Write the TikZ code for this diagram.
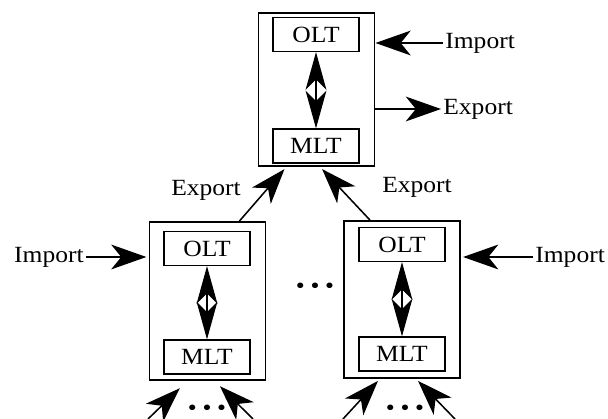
\documentclass[tikz,border=0pt]{standalone}
\usepackage{fontspec}
\setmainfont{Liberation Serif}[FakeStretch=1.1]
\usetikzlibrary{arrows.meta}
\begin{document}
\begin{tikzpicture}[x=0.025cm, y=-0.025cm,
	%Option for big arrows
	>={Stealth[length=0.88cm, width=0.62cm, inset=0.25cm]},
	font=\fontsize{16.5}{19}\selectfont,
	system/.style={draw, line width=1.4pt, minimum width=2.9cm, minimum height=3.9cm},
	layer/.style={draw, line width=0.9pt, minimum width=2.15cm, minimum height=0.85cm, inner sep=0pt},
	flow/.style={line width=1.1pt, ->},
	link/.style={line width=0.8pt,
		{Stealth[length=0.94cm, width=0.52cm, inset=0.26cm]}-{Stealth[length=0.94cm, width=0.52cm, inset=0.26cm]}},
	label/.style={inner sep=1.5pt},
	]
	% Frame
	\useasboundingbox (0,0) rectangle (608,419);
	
	% Upper system
	\node[system, minimum height=3.83cm] (topsys) at (316.5,89.5) {};
	\node[layer] (topolt) at (316,34.5) {OLT};
	\node[layer] (topmlt) at (316,146) {MLT};
	\draw[link] (topolt) -- (topmlt);
	
	\node[label, anchor=west] (topimport) at (443,43) {Import};
	\draw[flow] (topimport.west) -- (topimport -| topsys.east);
	\node[label, anchor=west] (topexport) at (441,109) {Export};
	\draw[flow] (topexport -| topsys.east) -- (topexport.west);
	
	% Lower left system
	\node[system, minimum height=3.95cm] (leftsys) at (207.5,301) {};
	\node[layer] (leftolt) at (207,248.5) {OLT};
	\node[layer] (leftmlt) at (207,357) {MLT};
	\draw[link] (leftolt) -- (leftmlt);
	
	\node[label, anchor=east] (leftimport) at (86,257) {Import};
	\draw[flow] (leftimport.east) -- ([xshift=-1.5pt]leftimport -| leftsys.west);
	
	% Lower right system
	\node[system, minimum height=3.92cm] (rightsys) at (402,299.5) {};
	\node[layer] (rightolt) at (402,244.5) {OLT};
	\node[layer] (rightmlt) at (402,354) {MLT};
	\draw[link] (rightolt) -- (rightmlt);
	
	\node[label, anchor=west] (rightimport) at (533,257) {Import};
	\draw[flow] (rightimport.west) -- ([xshift=1.5pt]rightimport -| rightsys.east);
	
	% Exports up to the upper system
	\draw[flow] ([xshift=0.8cm]leftsys.north) -- ([xshift=-0.8cm, yshift=-0.05cm]topsys.south);
	\draw[flow] ([xshift=-0.8cm]rightsys.north) -- ([xshift=0.14cm, yshift=-0.05cm]topsys.south);
	\node (leftexport) at (206,190) {Export};
	\node (rightexport) at (417,187) {Export};
	
	\node (middots) at (315,288) {\textbullet\hspace{4pt}\textbullet\hspace{4pt}\textbullet};
	
	% Inputs from below
	\coordinate (leftin1) at (148,419);
	\coordinate (leftin2) at (253,419);
	\coordinate (rightin1) at (343,419);
	\coordinate (rightin2) at (455,419);
	\draw[flow] (leftin1) -- ([xshift=-0.69cm, yshift=-0.18cm]leftsys.south);
	\draw[flow] (leftin2) -- ([xshift=0.31cm, yshift=-0.13cm]leftsys.south);
	\draw[flow] (rightin1) -- ([xshift=-0.6cm, yshift=-0.05cm]rightsys.south);
	\draw[flow] (rightin2) -- ([xshift=0.4cm, yshift=-0.05cm]rightsys.south);
	\node (leftdots) at (207,410) {\textbullet\hspace{4pt}\textbullet\hspace{4pt}\textbullet};
	\node (rightdots) at (405,410) {\textbullet\hspace{4pt}\textbullet\hspace{4pt}\textbullet};
\end{tikzpicture}
\end{document}
